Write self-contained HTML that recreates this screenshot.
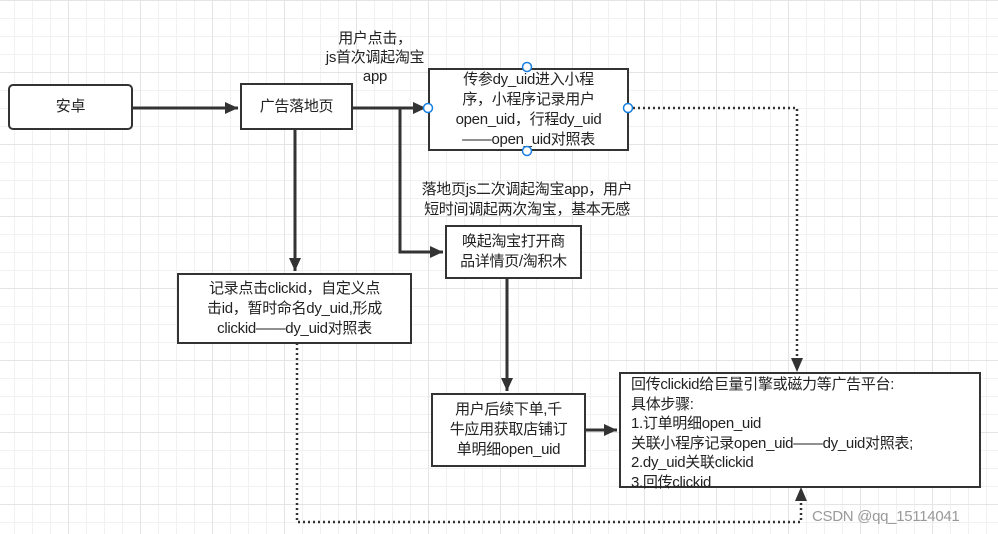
<!DOCTYPE html>
<html><head><meta charset="utf-8"><style>
body{margin:0;width:998px;height:534px;overflow:hidden;background:#fff;font-family:"Liberation Sans","Noto Sans CJK SC",sans-serif;}
.bg{position:absolute;left:0;top:0;width:998px;height:534px;
background-image:linear-gradient(to right,#e4e4e4 1px,transparent 1px),linear-gradient(to bottom,#e4e4e4 1px,transparent 1px),linear-gradient(to right,#f1f1f1 1px,transparent 1px),linear-gradient(to bottom,#f1f1f1 1px,transparent 1px);
background-size:72px 72px,72px 72px,18px 18px,18px 18px;background-position:68px 0,0 0,14px 0,0 0;}
.b{position:absolute;border:2px solid #333;background:#fff;box-sizing:border-box;display:flex;align-items:center;justify-content:center;text-align:center;font-size:15px;line-height:20px;color:#222;white-space:nowrap;letter-spacing:-0.3px;}
.t{position:absolute;font-size:15px;line-height:19px;text-align:center;color:#222;white-space:nowrap;letter-spacing:-0.3px;}
</style></head><body>
<div class="bg"></div>
<svg width="998" height="534" style="position:absolute;left:0;top:0">
<defs><marker id="a" markerWidth="14" markerHeight="14" refX="13" refY="6" orient="auto" markerUnits="userSpaceOnUse"><path d="M0,0 L13,6 L0,12 Z" fill="#333"/></marker></defs>
<g stroke="#333" stroke-width="3" fill="none">
<line x1="132" y1="108" x2="238" y2="108" marker-end="url(#a)"/>
<line x1="352" y1="108" x2="426" y2="108" marker-end="url(#a)"/>
<polyline points="400,108 400,252 443,252" marker-end="url(#a)"/>
<line x1="295" y1="129" x2="295" y2="271" marker-end="url(#a)"/>
<line x1="507" y1="278" x2="507" y2="391" marker-end="url(#a)"/>
<line x1="585" y1="430" x2="617" y2="430" marker-end="url(#a)"/>
</g>
<g stroke="#333" stroke-width="2.5" fill="none" stroke-dasharray="2,3">
<polyline points="628,108 797,108 797,360"/>
<polyline points="297,343 297,522 801,522 801,499"/>
</g>
<path d="M791,358 L797,372 L803,358 Z" fill="#333"/>
<path d="M795,501 L801,487 L807,501 Z" fill="#333"/>
</svg>
<div class="b" style="left:8px;top:84px;width:125px;height:46px;border-radius:5px">安卓</div>
<div class="b" style="left:240px;top:83px;width:113px;height:47px">广告落地页</div>
<div class="b" style="left:428px;top:68px;width:201px;height:83px">传参dy_uid进入小程<br>序，小程序记录用户<br>open_uid，行程dy_uid<br>——open_uid对照表</div>
<div class="b" style="left:445px;top:225px;width:137px;height:54px">唤起淘宝打开商<br>品详情页/淘积木</div>
<div class="b" style="left:177px;top:273px;width:235px;height:71px">记录点击clickid，自定义点<br>击id，暂时命名dy_uid,形成<br>clickid——dy_uid对照表</div>
<div class="b" style="left:431px;top:393px;width:155px;height:74px">用户后续下单,千<br>牛应用获取店铺订<br>单明细open_uid</div>
<div class="b" style="left:619px;top:372px;width:362px;height:116px;justify-content:flex-start;align-items:flex-start;text-align:left;padding:1px 10px;line-height:19.5px">回传clickid给巨量引擎或磁力等广告平台:<br>具体步骤:<br>1.订单明细open_uid<br>关联小程序记录open_uid——dy_uid对照表;<br>2.dy_uid关联clickid<br>3.回传clickid</div>
<svg width="998" height="534" style="position:absolute;left:0;top:0">
<g fill="#fff" stroke="#1a7fe0" stroke-width="1.5">
<circle cx="527" cy="67" r="4.5"/><circle cx="527" cy="151" r="4.5"/><circle cx="428" cy="108" r="4.5"/><circle cx="628" cy="108" r="4.5"/></g>
</svg>
<div class="t" style="left:315px;top:29px;width:120px">用户点击，<br>js首次调起淘宝<br>app</div>
<div class="t" style="left:404px;top:180px;width:246px;line-height:20px">落地页js二次调起淘宝app，用户<br>短时间调起两次淘宝，基本无感</div>
<div class="t" style="left:812px;top:507px;color:#999;font-size:15px">CSDN @qq_15114041</div>
</body></html>
